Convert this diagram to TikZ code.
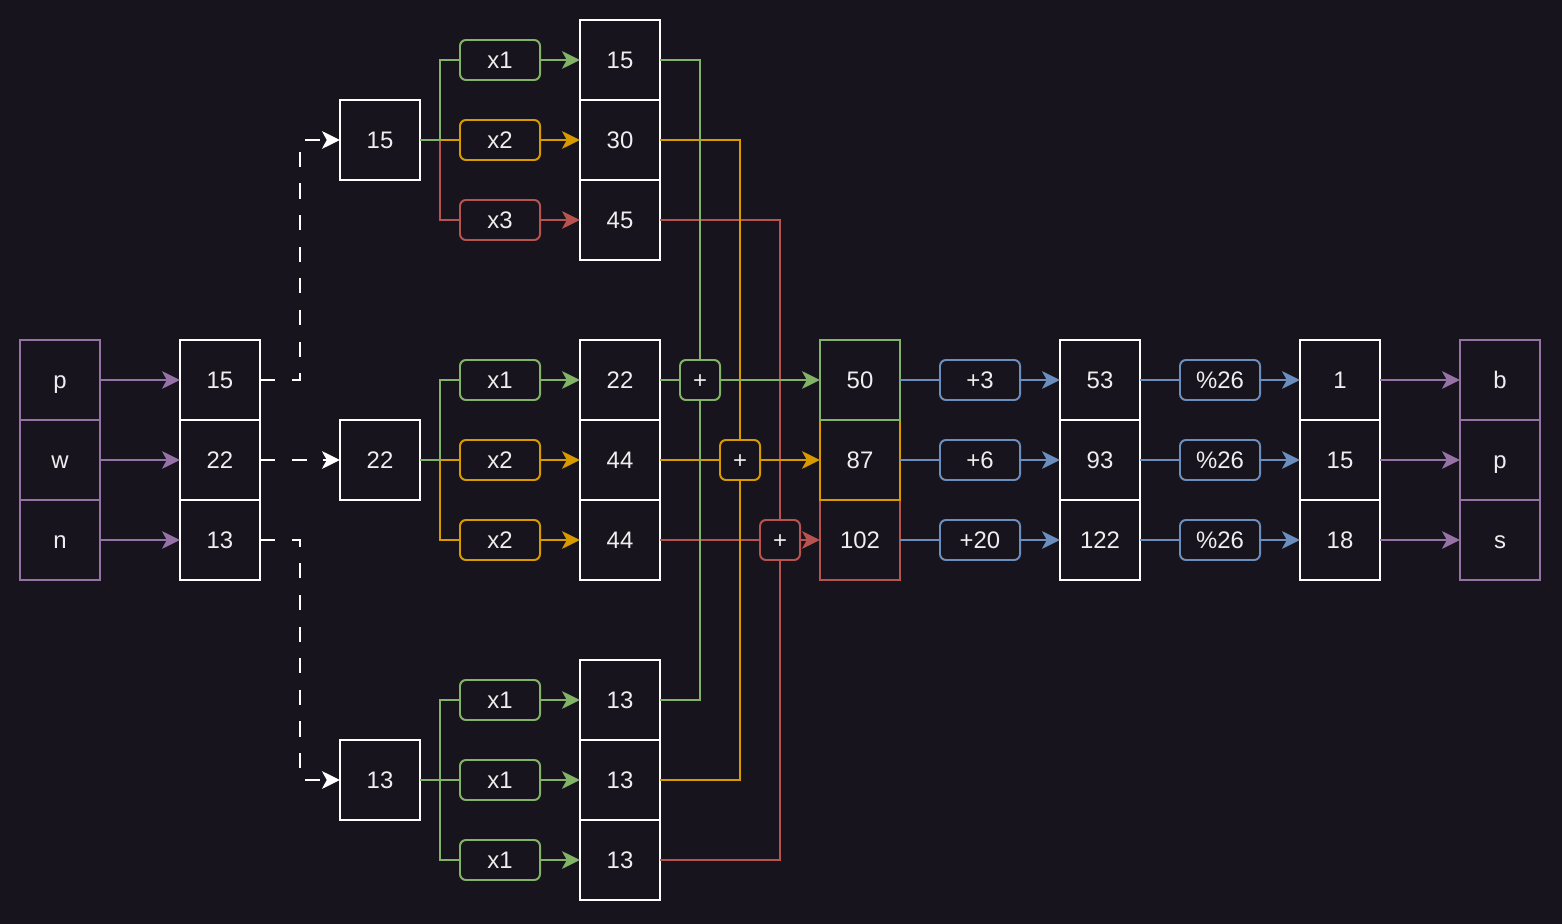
\documentclass[tikz,border=0pt]{standalone}
\usepackage{fontspec}
\setmainfont{Liberation Sans}
\usetikzlibrary{arrows.meta}
\definecolor{bgc}{HTML}{18141D}
\definecolor{txt}{HTML}{EEEEEE}
\definecolor{grn}{HTML}{82B366}
\definecolor{org}{HTML}{D79B00}
\definecolor{rd}{HTML}{B85450}
\definecolor{blu}{HTML}{6C8EBF}
\definecolor{purp}{HTML}{9673A6}
\tikzset{
  cell/.style={draw=white, fill=bgc, text=txt, line width=1.4pt, minimum size=2cm,
    inner sep=0pt, outer sep=0pt, text height=12.2pt, text depth=0pt,
    font=\fontsize{17}{20}\selectfont},
  ltr/.style={cell, draw=purp},
  op/.style={cell, rounded corners=0.15cm, minimum width=2cm, minimum height=1cm},
  plusbox/.style={cell, rounded corners=0.15cm, minimum size=1cm},
  wire/.style={line width=1.3pt},
  link/.style={wire, -{Stealth[length=0.45cm, width=0.44cm, inset=0.12cm]}},
  dashlink/.style={link, white, dash pattern=on 10.7pt off 11.8pt},
  }

\begin{document}
\begin{tikzpicture}[x=0.025cm, y=-0.025cm]
  \fill[bgc] (0,0) rectangle (1562,924);
  \useasboundingbox (0,0) rectangle (1562,924);

  % plaintext letters
  \node[ltr] (l1) at (60,380) {p};
  \node[ltr] (l2) at (60,460) {w};
  \node[ltr] (l3) at (60,540) {n};

  % letter values
  \node[cell] (n1) at (220,380) {15};
  \node[cell] (n2) at (220,460) {22};
  \node[cell] (n3) at (220,540) {13};

  % values taken apart
  \node[cell] (s1) at (380,140) {15};
  \node[cell] (s2) at (380,460) {22};
  \node[cell] (s3) at (380,780) {13};

  % key matrix factors
  \node[op,draw=grn] (m11) at (500, 60) {x1};
  \node[op,draw=org] (m12) at (500,140) {x2};
  \node[op,draw=rd]  (m13) at (500,220) {x3};
  \node[op,draw=grn] (m21) at (500,380) {x1};
  \node[op,draw=org] (m22) at (500,460) {x2};
  \node[op,draw=org] (m23) at (500,540) {x2};
  \node[op,draw=grn] (m31) at (500,700) {x1};
  \node[op,draw=grn] (m32) at (500,780) {x1};
  \node[op,draw=grn] (m33) at (500,860) {x1};

  % products
  \node[cell] (p11) at (620, 60) {15};
  \node[cell] (p12) at (620,140) {30};
  \node[cell] (p13) at (620,220) {45};
  \node[cell] (p21) at (620,380) {22};
  \node[cell] (p22) at (620,460) {44};
  \node[cell] (p23) at (620,540) {44};
  \node[cell] (p31) at (620,700) {13};
  \node[cell] (p32) at (620,780) {13};
  \node[cell] (p33) at (620,860) {13};

  % adders
  \node[plusbox,draw=grn] (a1) at (700,380) {+};
  \node[plusbox,draw=org] (a2) at (740,460) {+};
  \node[plusbox,draw=rd]  (a3) at (780,540) {+};

  % sums (bottom first, upper border on top)
  \node[cell,draw=rd]  (c3) at (860,540) {102};
  \node[cell,draw=org] (c2) at (860,460) {87};
  \node[cell,draw=grn] (c1) at (860,380) {50};

  % shift
  \node[op,draw=blu] (k1) at (980,380) {+3};
  \node[op,draw=blu] (k2) at (980,460) {+6};
  \node[op,draw=blu] (k3) at (980,540) {+20};
  \node[cell] (d1) at (1100,380) {53};
  \node[cell] (d2) at (1100,460) {93};
  \node[cell] (d3) at (1100,540) {122};

  % modulo
  \node[op,draw=blu] (q1) at (1220,380) {\%26};
  \node[op,draw=blu] (q2) at (1220,460) {\%26};
  \node[op,draw=blu] (q3) at (1220,540) {\%26};
  \node[cell] (r1) at (1340,380) {1};
  \node[cell] (r2) at (1340,460) {15};
  \node[cell] (r3) at (1340,540) {18};

  % ciphertext
  \node[ltr] (e1) at (1500,380) {b};
  \node[ltr] (e2) at (1500,460) {p};
  \node[ltr] (e3) at (1500,540) {s};

  % letters to values
  \draw[link,purp] (l1) -- (n1);
  \draw[link,purp] (l2) -- (n2);
  \draw[link,purp] (l3) -- (n3);

  % dashed split
  \draw[dashlink] (n1.east) -- ++(40,0) |- (s1.west);
  \draw[dashlink] (n2) -- (s2);
  \draw[dashlink] (n3.east) -- ++(40,0) |- (s3.west);

  % branches to the factors
  \draw[wire,rd]  (s1.east) -- ++(20,0) |- (m13);
  \draw[wire,org] (s1) -- (m12);
  \draw[wire,grn] (s1.east) -- ++(20,0) |- (m11);
  \draw[wire,org] (s2.east) -- ++(20,0) |- (m23);
  \draw[wire,org] (s2) -- (m22);
  \draw[wire,grn] (s2.east) -- ++(20,0) |- (m21);
  \draw[wire,grn] (s3.east) -- ++(20,0) |- (m33);
  \draw[wire,grn] (s3) -- (m32);
  \draw[wire,grn] (s3.east) -- ++(20,0) |- (m31);

  % factors to products
  \draw[link,grn] (m11) -- (p11);
  \draw[link,org] (m12) -- (p12);
  \draw[link,rd]  (m13) -- (p13);
  \draw[link,grn] (m21) -- (p21);
  \draw[link,org] (m22) -- (p22);
  \draw[link,org] (m23) -- (p23);
  \draw[link,grn] (m31) -- (p31);
  \draw[link,grn] (m32) -- (p32);
  \draw[link,grn] (m33) -- (p33);

  % products to adders
  \draw[wire,rd]  (p13.east) -| (a3);
  \draw[wire,rd]  (p23) -- (a3);
  \draw[wire,rd]  (p33.east) -| (a3);
  \draw[wire,org] (p12.east) -| (a2);
  \draw[wire,org] (p22) -- (a2);
  \draw[wire,org] (p32.east) -| (a2);
  \draw[wire,grn] (p11.east) -| (a1);
  \draw[wire,grn] (p21) -- (a1);
  \draw[wire,grn] (p31.east) -| (a1);

  % adders to sums
  \draw[link,grn] (a1) -- (c1);
  \draw[link,org] (a2) -- (c2);
  \draw[link,rd]  (a3) -- (c3);

  % shift and modulo
  \draw[wire,blu] (c1) -- (k1);
  \draw[wire,blu] (c2) -- (k2);
  \draw[wire,blu] (c3) -- (k3);
  \draw[link,blu] (k1) -- (d1);
  \draw[link,blu] (k2) -- (d2);
  \draw[link,blu] (k3) -- (d3);
  \draw[wire,blu] (d1) -- (q1);
  \draw[wire,blu] (d2) -- (q2);
  \draw[wire,blu] (d3) -- (q3);
  \draw[link,blu] (q1) -- (r1);
  \draw[link,blu] (q2) -- (r2);
  \draw[link,blu] (q3) -- (r3);

  % values to letters
  \draw[link,purp] (r1) -- (e1);
  \draw[link,purp] (r2) -- (e2);
  \draw[link,purp] (r3) -- (e3);
\end{tikzpicture}
\end{document}
